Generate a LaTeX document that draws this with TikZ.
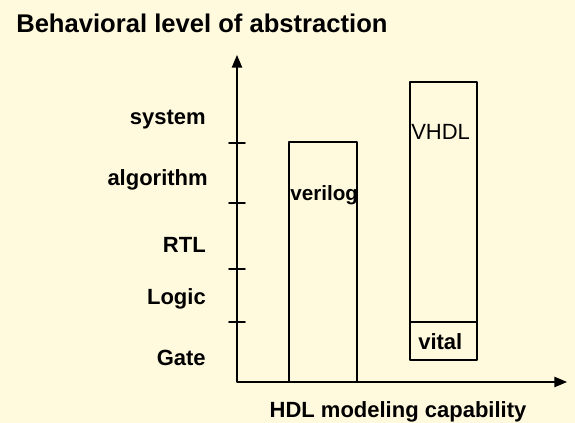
\documentclass[tikz,border=0pt]{standalone}
\usepackage{fontspec}
\setmainfont{Liberation Sans}
\usepackage{tikz}
\usetikzlibrary{arrows}
\definecolor{cream}{RGB}{255,250,222}

\begin{document}
\begin{tikzpicture}[line cap=round,line join=round,>=triangle 45,x=0.75pt,y=-0.75pt,
  lab/.style={inner sep=0pt,font=\fontsize{16.5}{19}\selectfont\bfseries}]
\fill[cream] (0,0) rectangle (575,423);
\useasboundingbox (0,0) rectangle (575,423);
\node [inner sep=0pt, anchor=base west, font=\fontsize{19.2}{22}\selectfont\bfseries] (title) at (16,33) {Behavioral level of abstraction};

%akselit
\draw[<->,line width=1.2pt] (237,55)--(237,382)--(567,382);
%tiksut
\foreach \y in {143,203,269,322}
{
\draw[line width=1.2pt] (229,\y) -- (245,\y);
}
\node [lab, anchor=base east] (sys) at (206,125) {system};
\node [lab, anchor=base east] (alg) at (208,186) {algorithm};
\node [lab, anchor=base east] (rtl) at (206,253) {RTL};
\node [lab, anchor=base east] (logic) at (206,305) {Logic};
\node [lab, anchor=base east] (gate) at (206,366) {Gate};
\node [lab, anchor=base] (xlab) at (398,418) {HDL modeling capability};

%laatikot
\draw[line width=1.2pt] (289,382) rectangle (357,142);
\draw[line width=1.2pt] (410,360) rectangle (477,82);
\draw[line width=1.2pt] (410,322) -- (477,322);
\node [inner sep=0pt, anchor=base west, font=\fontsize{15.5}{18}\selectfont\bfseries] (verilog) at (290,201) {verilog};
\node [inner sep=0pt, anchor=base west, font=\fontsize{16.5}{19}\selectfont] (vhdl) at (411,140) {VHDL};
\node [lab, anchor=base west] (vital) at (418,350) {vital};
\end{tikzpicture}
\end{document}
